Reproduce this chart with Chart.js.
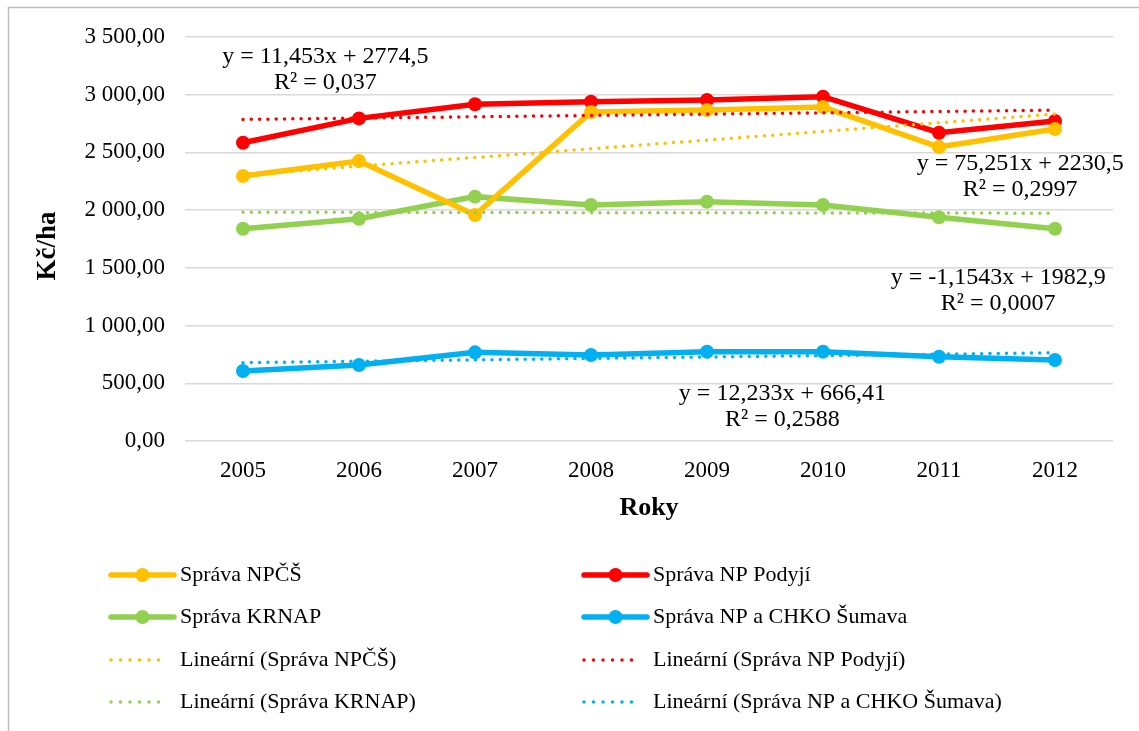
<!DOCTYPE html>
<html>
<head>
<meta charset="utf-8">
<script src="https://cdn.jsdelivr.net/npm/chart.js@4.4.1/dist/chart.umd.min.js"></script>
<style>
  html, body { margin: 0; padding: 0; background: #ffffff; }
  #wrap { position: relative; width: 1139px; height: 731px; }
</style>
</head>
<body>
<div id="wrap"><canvas id="c"></canvas></div>
<script>
// ---- data ----
const years = ['2005', '2006', '2007', '2008', '2009', '2010', '2011', '2012'];
const spravaNPCS    = [2296, 2426, 1958, 2850, 2867, 2893, 2547, 2703];
const spravaPodyji  = [2584, 2795, 2917, 2939, 2954, 2983, 2671, 2772];
const spravaKRNAP   = [1839, 1926, 2117, 2044, 2073, 2044, 1938, 1839];
const spravaSumava  = [606, 658, 768, 745, 774, 774, 730, 702];
const seriesNames = ['Správa NPČŠ', 'Správa NP Podyjí', 'Správa KRNAP', 'Správa NP a CHKO Šumava'];
// linear trend coefficients as printed on the chart (x = 1..8)
const trendSlope     = [75.251, 11.453, -1.1543, 12.233];
const trendIntercept = [2230.5, 2774.5, 1982.9, 666.41];
const trendEq = ['y = 75,251x + 2230,5', 'y = 11,453x + 2774,5', 'y = -1,1543x + 1982,9', 'y = 12,233x + 666,41'];
const trendR2 = ['R² = 0,2997', 'R² = 0,037', 'R² = 0,0007', 'R² = 0,2588'];
const yTicksMin = 0, yTicksMax = 3500, yTicksStep = 500;
const xTitle = 'Roky';
const yTitle = 'Kč/ha';

// ---- styles ----
const colors = ['#FFC000', '#FF0000', '#92D050', '#00B0F0'];
const FONT = "'Liberation Serif', 'Times New Roman', serif";
// label anchor positions (category index, value) for the equation boxes
const eqPos = [
  {x: 6.70, y: 2400},
  {x: 0.71, y: 3330},
  {x: 6.51, y: 1415},
  {x: 4.65, y: 410}
];

const seriesData = [spravaNPCS, spravaPodyji, spravaKRNAP, spravaSumava];
const datasets = [];
seriesData.forEach((d, i) => {
  datasets.push({
    label: seriesNames[i],
    data: d,
    borderColor: colors[i],
    backgroundColor: colors[i],
    borderWidth: 5.5,
    pointRadius: 7,
    pointHoverRadius: 7,
    pointBorderWidth: 0,
    pointBackgroundColor: colors[i],
    tension: 0,
    order: 2
  });
});
seriesData.forEach((d, i) => {
  datasets.push({
    label: 'Lineární (' + seriesNames[i] + ')',
    data: years.map((_, k) => trendSlope[i] * (k + 1) + trendIntercept[i]),
    borderColor: colors[i],
    backgroundColor: colors[i],
    borderWidth: 3.5,
    borderDash: [0, 8.3],
    borderCapStyle: 'round',
    pointRadius: 0,
    pointHoverRadius: 0,
    tension: 0,
    order: 1,
    isTrend: true
  });
});

function fmt(v) {
  const s = Number(v).toFixed(2).split('.');
  return s[0].replace(/\B(?=(\d{3})+(?!\d))/g, ' ') + ',' + s[1];
}

const decorPlugin = {
  id: 'decor',
  beforeDraw(chart) {
    const ctx = chart.ctx;
    ctx.save();
    ctx.strokeStyle = '#bfbfbf';
    ctx.lineWidth = 1.5;
    ctx.beginPath();
    ctx.moveTo(8.5, chart.height);
    ctx.lineTo(8.5, 7.5);
    ctx.lineTo(chart.width, 7.5);
    ctx.stroke();
    ctx.restore();
  },
  afterDraw(chart) {
    const ctx = chart.ctx;
    const xs = chart.scales.x, ys = chart.scales.y;
    ctx.save();
    // y axis title
    ctx.fillStyle = '#000';
    ctx.font = 'bold 27px ' + FONT;
    ctx.textAlign = 'center';
    ctx.textBaseline = 'middle';
    ctx.translate(48, 246);
    ctx.rotate(-Math.PI / 2);
    ctx.fillText(yTitle, 0, 0);
    ctx.setTransform(1, 0, 0, 1, 0, 0);
    // equation labels
    ctx.font = '24px ' + FONT;
    eqPos.forEach((p, i) => {
      const px = xs.getPixelForValue(p.x);
      const py = ys.getPixelForValue(p.y);
      ctx.fillText(trendEq[i], px, py);
      ctx.fillText(trendR2[i], px, py + 26);
    });
    // legend (two columns)
    ctx.font = '22px ' + FONT;
    const colX = [110, 583];
    const rowY = [575, 617, 660, 702];
    chart.data.datasets.forEach((ds, i) => {
      const cx = colX[i % 2];
      const cy = rowY[Math.floor(i / 2)];
      ctx.strokeStyle = ds.borderColor;
      if (ds.isTrend) {
        ctx.lineWidth = 3.5;
        ctx.lineCap = 'round';
        ctx.setLineDash([0, 9.5]);
        ctx.beginPath();
        ctx.moveTo(cx + 1, cy);
        ctx.lineTo(cx + 58, cy);
        ctx.stroke();
        ctx.setLineDash([]);
      } else {
        ctx.lineWidth = 5.5;
        ctx.lineCap = 'round';
        ctx.beginPath();
        ctx.moveTo(cx + 1, cy);
        ctx.lineTo(cx + 64, cy);
        ctx.stroke();
        ctx.fillStyle = ds.borderColor;
        ctx.beginPath();
        ctx.arc(cx + 32.5, cy, 7, 0, Math.PI * 2);
        ctx.fill();
      }
      ctx.fillStyle = '#000';
      ctx.textAlign = 'left';
      ctx.fillText(ds.label, cx + 70, cy);
    });
    ctx.restore();
  }
};

new Chart(document.getElementById('c'), {
  type: 'line',
  data: { labels: years, datasets: datasets },
  options: {
    responsive: true,
    maintainAspectRatio: false,
    animation: false,
    layout: { padding: { left: 0, right: 26, top: 37, bottom: 0 } },
    plugins: { legend: { display: false }, tooltip: { enabled: false } },
    scales: {
      x: {
        offset: true,
        grid: { display: false, drawTicks: false },
        border: { display: false },
        ticks: { color: '#000', font: { family: FONT, size: 23 }, padding: 16 },
        title: { display: true, text: xTitle, color: '#000', font: { family: FONT, size: 26, weight: 'bold' }, padding: { top: 0, bottom: 207 } },
        afterFit(scale) { scale.height = 290; }
      },
      y: {
        min: yTicksMin,
        max: yTicksMax,
        grid: { color: '#d9d9d9', lineWidth: 1.5, drawTicks: false },
        border: { display: false },
        ticks: { stepSize: yTicksStep, color: '#000', font: { family: FONT, size: 23 }, padding: 20, callback: v => fmt(v) },
        afterFit(scale) { scale.width = 185; }
      }
    }
  },
  plugins: [decorPlugin]
});
</script>
</body>
</html>
